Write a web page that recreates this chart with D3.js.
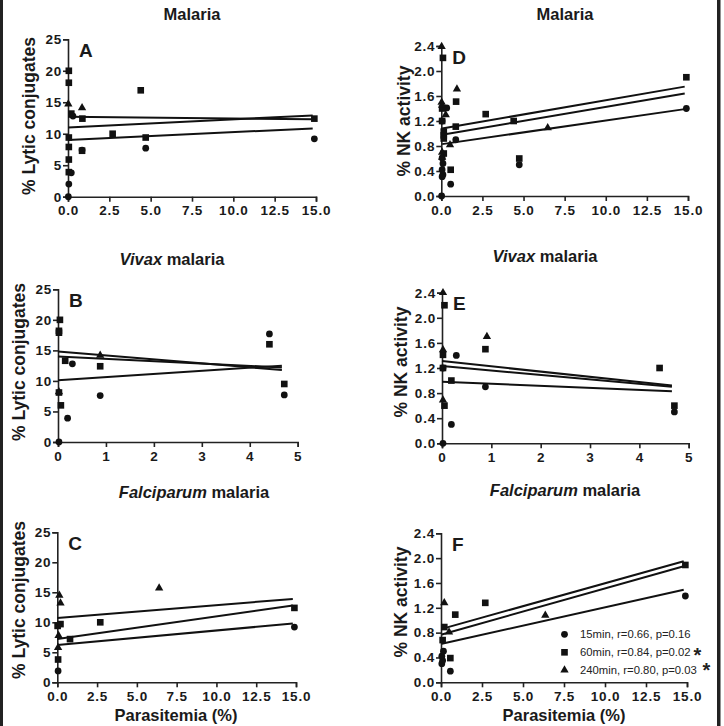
<!DOCTYPE html>
<html>
<head>
<meta charset="utf-8">
<script src="https://cdn.jsdelivr.net/npm/d3@7"></script>
<style>
  body { margin: 0; background: #fff; }
  svg { display: block; }
  .tick text { font-family: "Liberation Sans", Arial, sans-serif; font-weight: bold; font-size: 13.5px; letter-spacing: 0.8px; fill: #1a1a1a; }
</style>
</head>
<body>
<div id="chart"></div>
<script>
// series: 15min (circle), 60min (square), 240min (triangle) -- [parasitemia, value]

// A: Malaria, % lytic conjugates
const aCircles = [[0.02,0],[0.05,2.0],[0.2,3.8],[0.3,12.8],[0.85,7.4],[4.7,7.7],[14.9,9.2]];
const aSquares = [[0.05,20.0],[0.05,18.1],[0.05,9.4],[0.05,7.9],[0.05,5.9],[0.05,3.9],[0.2,13.2],[0.87,12.4],[0.85,7.3],[2.7,10.0],[4.4,16.9],[4.7,9.4],[14.9,12.4]];
const aTriangles = [[0.02,14.7],[0.85,14.1]];
const aFits = [[[0,12.7],[14.8,12.3]], [[0,11.0],[14.8,12.9]], [[0,9.0],[14.8,10.85]]];

// D: Malaria, % NK activity
const dCircles = [[0.02,0],[0.05,0.31],[0.1,0.34],[0.05,0.42],[0.1,0.52],[0.05,0.61],[0.05,1.2],[0.33,1.41],[0.88,0.9],[0.57,0.19],[4.74,0.5],[14.9,1.4]];
const dSquares = [[0.1,2.21],[0.9,1.51],[0.05,1.4],[0.05,1.2],[0.15,1.03],[0.15,0.97],[0.15,0.92],[0.88,1.11],[2.7,1.31],[4.4,1.2],[0.15,0.68],[0.57,0.42],[4.74,0.6],[14.9,1.9]];
const dTriangles = [[0.02,2.39],[0.95,1.71],[0.02,1.5],[0.05,1.45],[0.27,1.3],[0.53,0.82],[0.05,0.7],[0.05,0.62],[6.47,1.09]];
const dFits = [[[0.05,1.08],[14.8,1.75]], [[0.05,0.98],[14.8,1.64]], [[0.05,0.83],[14.8,1.39]]];

// B: Vivax malaria, % lytic conjugates
const bCircles = [[0.02,0],[0.2,3.9],[0.3,12.8],[0.88,7.6],[4.41,17.7],[4.72,7.7]];
const bSquares = [[0.04,20.0],[0.02,18.2],[0.02,17.9],[0.15,13.3],[0.88,12.4],[0.02,8.1],[0.06,6.0],[4.41,16.0],[4.72,9.5]];
const bTriangles = [[0.88,14.2],[0.02,8.2]];
const bFits = [[[0,14.8],[4.67,11.8]], [[0,14.0],[4.67,12.2]], [[0,10.1],[4.67,12.5]]];

// E: Vivax malaria, % NK activity
const eCircles = [[0.02,0],[0.19,0.3],[0.29,1.4],[0.88,0.9],[4.71,0.5],[0.02,1.2]];
const eSquares = [[0.05,2.2],[0.88,1.5],[0.02,1.41],[0.02,1.2],[0.19,1.0],[0.05,0.6],[4.41,1.2],[4.71,0.6]];
const eTriangles = [[0.02,2.4],[0.91,1.7],[0.02,1.49],[0.02,0.69]];
const eFits = [[[0,1.31],[4.66,0.92]], [[0,1.23],[4.66,0.90]], [[0,0.98],[4.66,0.83]]];

// C: Falciparum malaria, % lytic conjugates
const cCircles = [[0.05,1.9],[14.9,9.2]];
const cSquares = [[0.02,9.4],[0.2,9.7],[2.7,10.0],[0.8,7.2],[0.05,3.8],[14.9,12.4]];
const cTriangles = [[0.13,14.5],[0.2,13.2],[6.4,15.7],[0.08,7.8],[0.05,5.8]];
const cFits = [[[0,10.7],[14.8,13.9]], [[0,7.2],[14.8,12.8]], [[0,6.2],[14.8,9.8]]];

// F: Falciparum malaria, % NK activity
const fCircles = [[0.05,0.3],[0.1,0.35],[0.05,0.42],[0.15,0.5],[0.57,0.18],[14.9,1.39]];
const fSquares = [[0.2,0.89],[0.87,1.09],[2.7,1.28],[0.1,0.68],[0.57,0.39],[14.9,1.89]];
const fTriangles = [[0.2,1.28],[0.49,0.81],[6.36,1.08]];
const fFits = [[[0.05,0.86],[14.8,1.95]], [[0.05,0.77],[14.8,1.87]], [[0.05,0.62],[14.8,1.49]]];

const wideTicks = [0, 2.5, 5, 7.5, 10, 12.5, 15];
const narrowTicks = [0, 1, 2, 3, 4, 5];
const lyticTicks = [0, 5, 10, 15, 20, 25];
const nkTicks = [0, 0.4, 0.8, 1.2, 1.6, 2.0, 2.4];

const legendLabels = ['15min, r=0.66, p=0.16', '60min, r=0.84, p=0.02', '240min, r=0.80, p=0.03'];
const legendStars = ['', '*', '*'];

const FONT = '"Liberation Sans", Arial, sans-serif';
const W = 724, H = 726;

const svg = d3.select('#chart').append('svg')
  .attr('width', W)
  .attr('height', H);

// frame edges
svg.append('rect').attr('x', 0).attr('y', 0).attr('width', 3).attr('height', H).attr('fill', '#222');
svg.append('rect').attr('x', 717).attr('y', 0).attr('width', 3.5).attr('height', H).attr('fill', '#222');

const shapes = [
  d3.symbol().type(d3.symbolCircle).size(36),
  d3.symbol().type(d3.symbolSquare).size(44),
  d3.symbol().type(d3.symbolTriangle).size(30)
];

const panels = [
  { letter: 'A', title: ['', 'Malaria'], tx: 192, ty: 19.5, box: [68, 316, 39.3, 196.7],
    xMax: 15, xTicks: wideTicks, xFmt: '.1f', yMax: 25, yTicks: lyticTicks, yFmt: 'd',
    yLabel: '% Lytic conjugates', lx: 29, ly: 116,
    series: [aCircles, aSquares, aTriangles], fits: aFits },
  { letter: 'D', title: ['', 'Malaria'], tx: 565, ty: 19.5, box: [441.3, 688, 46, 196],
    xMax: 15, xTicks: wideTicks, xFmt: '.1f', yMax: 2.4, yTicks: nkTicks, yFmt: '.1f',
    yLabel: '% NK activity', lx: 404, ly: 121,
    series: [dCircles, dSquares, dTriangles], fits: dFits },
  { letter: 'B', title: ['Vivax', ' malaria'], tx: 172, ty: 265, box: [58, 297.7, 289.3, 442],
    xMax: 5, xTicks: narrowTicks, xFmt: 'd', yMax: 25, yTicks: lyticTicks, yFmt: 'd',
    yLabel: '% Lytic conjugates', lx: 19, ly: 362,
    series: [bCircles, bSquares, bTriangles], fits: bFits },
  { letter: 'E', title: ['Vivax', ' malaria'], tx: 545, ty: 262, box: [442, 688.7, 292.7, 443.3],
    xMax: 5, xTicks: narrowTicks, xFmt: 'd', yMax: 2.4, yTicks: nkTicks, yFmt: '.1f',
    yLabel: '% NK activity', lx: 401, ly: 362,
    series: [eCircles, eSquares, eTriangles], fits: eFits },
  { letter: 'C', title: ['Falciparum', ' malaria'], tx: 194, ty: 498, box: [57.3, 296, 532.3, 682.3],
    xMax: 15, xTicks: wideTicks, xFmt: '.1f', yMax: 25, yTicks: lyticTicks, yFmt: 'd',
    yLabel: '% Lytic conjugates', lx: 19, ly: 600, xLabel: true, xlx: 176,
    series: [cCircles, cSquares, cTriangles], fits: cFits },
  { letter: 'F', title: ['Falciparum', ' malaria'], tx: 565, ty: 496, box: [441, 687, 533.3, 682.3],
    xMax: 15, xTicks: wideTicks, xFmt: '.1f', yMax: 2.4, yTicks: nkTicks, yFmt: '.1f',
    yLabel: '% NK activity', lx: 401, ly: 602, xLabel: true, xlx: 564, legend: true,
    series: [fCircles, fSquares, fTriangles], fits: fFits }
];

panels.forEach(p => drawPanel(p));

function drawPanel(p) {
  const [x0, x1, yTop, yBot] = p.box;
  const x = d3.scaleLinear().domain([0, p.xMax]).range([x0, x1]);
  const y = d3.scaleLinear().domain([0, p.yMax]).range([yBot, yTop]);
  const g = svg.append('g');

  // title, first part italic
  const t = g.append('text')
    .attr('x', p.tx).attr('y', p.ty)
    .attr('text-anchor', 'middle')
    .style('font-family', FONT).style('font-weight', 'bold').style('font-size', '16.5px')
    .style('fill', '#1a1a1a');
  if (p.title[0]) t.append('tspan').style('font-style', 'italic').text(p.title[0]);
  t.append('tspan').text(p.title[1]);

  const xAxis = g.append('g')
    .attr('transform', `translate(0,${yBot})`)
    .call(d3.axisBottom(x).tickValues(p.xTicks).tickFormat(d3.format(p.xFmt)).tickSizeOuter(0).tickSize(5).tickPadding(4));
  const yAxis = g.append('g')
    .attr('transform', `translate(${x0},0)`)
    .call(d3.axisLeft(y).tickValues(p.yTicks).tickFormat(d3.format(p.yFmt)).tickSizeOuter(0).tickSize(5).tickPadding(1));
  [xAxis, yAxis].forEach(a => {
    a.select('.domain').attr('stroke', '#222').attr('stroke-width', 1.6);
    a.selectAll('.tick line').attr('stroke', '#222').attr('stroke-width', 1.6);
  });

  g.append('text')
    .attr('transform', `translate(${p.lx},${p.ly}) rotate(-90)`)
    .attr('text-anchor', 'middle').attr('dy', '0.35em')
    .style('font-family', FONT).style('font-weight', 'bold').style('font-size', '17.5px')
    .style('fill', '#1a1a1a')
    .text(p.yLabel);

  if (p.xLabel) {
    g.append('text')
      .attr('x', p.xlx).attr('y', 721)
      .attr('text-anchor', 'middle')
      .style('font-family', FONT).style('font-weight', 'bold').style('font-size', '16.5px')
      .style('fill', '#1a1a1a')
      .text('Parasitemia (%)');
  }

  g.append('text')
    .attr('x', x0 + 11).attr('y', yTop + 17.5)
    .style('font-family', FONT).style('font-weight', 'bold').style('font-size', '19px')
    .style('fill', '#1a1a1a')
    .text(p.letter);

  // fitted lines
  const line = d3.line().x(d => x(d[0])).y(d => y(d[1]));
  g.selectAll('.fit').data(p.fits).enter()
    .append('path')
    .attr('class', 'fit')
    .attr('d', line)
    .attr('fill', 'none')
    .attr('stroke', '#111')
    .attr('stroke-width', 2);

  p.series.forEach((pts, i) => {
    g.selectAll('.s' + i).data(pts).enter()
      .append('path')
      .attr('class', 's' + i)
      .attr('d', shapes[i])
      .attr('transform', d => `translate(${x(d[0])},${y(d[1])})`)
      .attr('fill', '#111');
  });

  if (p.legend) {
    const lg = g.append('g');
    legendLabels.forEach((lab, i) => {
      const ry = [634.3, 652.3, 670][i];
      lg.append('path').attr('d', shapes[i]).attr('transform', `translate(564.5,${ry})`).attr('fill', '#111');
      lg.append('text')
        .attr('x', 580).attr('y', ry).attr('dy', '0.35em')
        .style('font-family', FONT).style('font-size', '11.3px').style('fill', '#222')
        .text(lab);
      if (legendStars[i]) {
        lg.append('text')
          .attr('x', [0, 693.5, 702.5][i]).attr('y', ry + [0, 10, 7][i])
          .style('font-family', FONT).style('font-weight', 'bold').style('font-size', '20px').style('fill', '#222')
          .text(legendStars[i]);
      }
    });
  }
}
</script>
</body>
</html>
